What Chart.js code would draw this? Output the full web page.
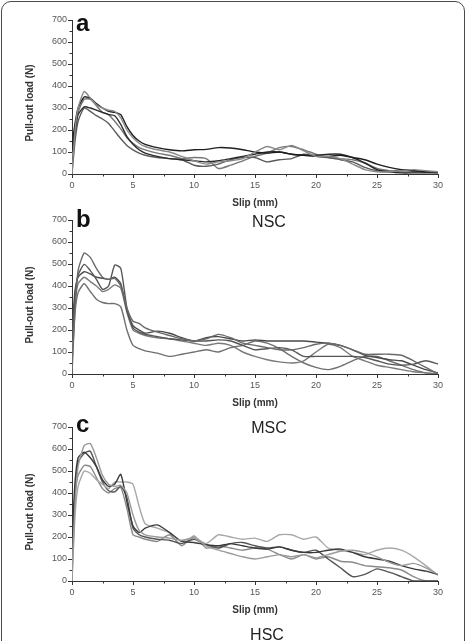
<!DOCTYPE html>
<html>
<head>
<meta charset="utf-8">
<script src="https://cdn.jsdelivr.net/npm/chart.js@4.4.1/dist/chart.umd.min.js"></script>
<style>
    body { margin: 0; width: 467px; height: 641px; overflow: hidden; background: #fff; position: relative; font-family: "Liberation Sans", Arial, sans-serif; }
    .frame { position: absolute; left: 1px; top: 1px; width: 462px; height: 720px; border: 1.5px solid #4a4a4a; border-radius: 10px; }
    .panel { position: absolute; left: 0; width: 467px; height: 212px; }
    .tag { position: absolute; left: 76px; font-weight: bold; font-size: 24px; line-height: 24px; color: #111; }
    .cap { position: absolute; width: 100px; text-align: center; font-size: 16px; line-height: 16px; color: #222; }
    .ytitle { position: absolute; left: -30px; width: 120px; height: 12px; line-height: 12px; text-align: center; font-weight: bold; font-size: 10px; color: #333; transform: rotate(-90deg); }
</style>
</head>
<body>
<div class="frame"></div>

<div class="panel" style="top:0px"><canvas id="chartA" width="467" height="212"></canvas></div>
<div class="panel" style="top:200px"><canvas id="chartB" width="467" height="212"></canvas></div>
<div class="panel" style="top:407px"><canvas id="chartC" width="467" height="212"></canvas></div>

<div class="tag" style="top:11px">a</div>
<div class="tag" style="top:207px">b</div>
<div class="tag" style="top:412px">c</div>

<div class="ytitle" style="top:97px">Pull-out load (N)</div>
<div class="ytitle" style="top:299px">Pull-out load (N)</div>
<div class="ytitle" style="top:506px">Pull-out load (N)</div>

<div class="cap" style="left:219px; top:214px">NSC</div>
<div class="cap" style="left:219px; top:420px">MSC</div>
<div class="cap" style="left:217px; top:627px">HSC</div>

<script>
// slip positions (mm) shared by every curve
const slip = [0, 0.25, 0.5, 1, 1.5, 2, 2.5, 3, 3.5, 4, 4.5, 5, 5.5, 6,
    7, 8, 9, 10, 11, 12, 13, 14, 15, 16, 17, 18, 19, 20, 21, 22, 23, 24, 25, 26, 27, 28, 29, 30];

const xTicks = [0, 5, 10, 15, 20, 25, 30];
const yTicks = [0, 100, 200, 300, 400, 500, 600, 700];

// (a) NSC specimens, load in N
const nsc1 = [0, 200, 300, 375, 345, 315, 300, 290, 285, 255, 200, 165, 140, 125,
    110, 100, 80, 60, 45, 55, 60, 70, 100, 125, 110, 130, 105, 80, 80, 70, 45, 20, 10, 10, 15, 20, 15, 10];
const nsc2 = [130, 230, 300, 350, 345, 320, 300, 285, 280, 270, 215, 175, 150, 135,
    120, 110, 105, 110, 112, 120, 118, 110, 100, 95, 100, 90, 85, 80, 80, 85, 75, 65, 45, 30, 20, 15, 10, 10];
const nsc3 = [100, 200, 270, 305, 300, 290, 280, 270, 265, 225, 170, 135, 110, 95,
    80, 70, 65, 60, 55, 60, 70, 80, 90, 100, 100, 90, 85, 85, 90, 90, 75, 50, 20, 10, 5, 5, 5, 5];
const nsc4 = [0, 150, 240, 300, 285, 265, 250, 230, 195, 160, 130, 110, 95, 85,
    75, 70, 65, 40, 35, 45, 65, 75, 75, 55, 65, 70, 90, 80, 75, 65, 55, 30, 15, 10, 20, 15, 10, 10];
const nsc5 = [80, 180, 280, 340, 340, 310, 280, 270, 240, 205, 165, 140, 120, 110,
    95, 85, 70, 75, 70, 25, 40, 60, 80, 95, 120, 125, 110, 90, 75, 70, 65, 50, 25, 15, 10, 10, 10, 5];

// (b) MSC specimens
const msc1 = [0, 300, 470, 550, 530, 480, 440, 430, 435, 400, 300, 240, 230, 210,
    190, 175, 160, 150, 160, 180, 165, 140, 130, 120, 110, 110, 120, 135, 140, 130, 110, 90, 90, 90, 85, 60, 30, 0];
const msc2 = [150, 350, 450, 498, 470, 430, 385, 400, 495, 480, 300, 210, 190, 180,
    170, 160, 155, 150, 150, 155, 150, 130, 110, 115, 120, 110, 80, 80, 80, 80, 80, 75, 60, 45, 40, 45, 60, 45];
const msc3 = [200, 380, 440, 465, 455, 440, 435, 430, 440, 410, 290, 220, 200, 185,
    195, 185, 165, 150, 165, 170, 160, 150, 155, 150, 150, 150, 150, 145, 140, 130, 110, 85, 75, 65, 60, 40, 20, 5];
const msc4 = [100, 320, 410, 440, 420, 400, 375, 385, 405, 390, 280, 200, 185, 175,
    165, 160, 150, 140, 130, 140, 130, 100, 80, 65, 55, 50, 60, 100, 135, 120, 80, 60, 40, 30, 20, 10, 5, 0];
const msc5 = [50, 280, 370, 410, 375, 340, 325, 320, 320, 305, 200, 130, 115, 105,
    95, 80, 90, 100, 110, 100, 120, 130, 150, 140, 115, 80, 50, 30, 20, 35, 60, 80, 80, 60, 40, 20, 5, 0];

// (c) HSC specimens
const hsc1 = [0, 350, 520, 615, 625, 560, 480, 440, 430, 435, 400, 300, 230, 210,
    200, 195, 185, 195, 160, 140, 125, 110, 100, 110, 120, 110, 120, 105, 120, 135, 140, 130, 110, 85, 70, 80, 60, 30];
const hsc2 = [200, 450, 560, 585, 560, 520, 460, 430, 440, 485, 360, 250, 220, 240,
    255, 220, 180, 175, 165, 160, 170, 160, 150, 145, 155, 140, 130, 130, 140, 145, 130, 110, 100, 90, 70, 55, 45, 30];
const hsc3 = [0, 300, 430, 500, 490, 460, 440, 420, 450, 450, 450, 440, 340, 260,
    240, 220, 180, 200, 170, 210, 200, 190, 195, 180, 210, 210, 190, 200, 150, 140, 130, 120, 140, 150, 140, 110, 70, 25];
const hsc4 = [100, 400, 540, 580, 590, 520, 450, 410, 405, 430, 380, 240, 210, 200,
    190, 185, 170, 190, 165, 150, 170, 175, 160, 150, 155, 140, 130, 140, 100, 60, 20, 30, 55, 40, 20, 0, 0, 0];
const hsc5 = [50, 380, 480, 525, 520, 470, 420, 400, 420, 425, 330, 210, 200, 190,
    180, 210, 160, 205, 150, 160, 150, 140, 150, 145, 120, 100, 120, 100, 110, 90, 85, 70, 65, 60, 50, 20, 0, 0];

const FONT = "'Liberation Sans', Arial, sans-serif";

// short ticks halfway between the labelled ones
const minorTicks = {
    id: "minorTicks",
    afterDraw(chart) {
        const ctx = chart.ctx;
        const xs = chart.scales.x;
        const ys = chart.scales.y;
        ctx.save();
        ctx.strokeStyle = "#333";
        ctx.lineWidth = 1;
        for (let i = 0; i < xTicks.length - 1; i++) {
            const px = Math.round(xs.getPixelForValue((xTicks[i] + xTicks[i + 1]) / 2)) + 0.5;
            ctx.beginPath();
            ctx.moveTo(px, xs.top);
            ctx.lineTo(px, xs.top + 2.5);
            ctx.stroke();
        }
        for (let i = 0; i < yTicks.length - 1; i++) {
            const py = Math.round(ys.getPixelForValue((yTicks[i] + yTicks[i + 1]) / 2)) + 0.5;
            ctx.beginPath();
            ctx.moveTo(ys.right, py);
            ctx.lineTo(ys.right - 2.5, py);
            ctx.stroke();
        }
        ctx.restore();
    }
};

function makePanel(id, series, colors) {
    const canvas = document.getElementById(id);
    if (!canvas) return null;

    const datasets = series.map((loads, i) => ({
        data: slip.map((s, j) => ({ x: s, y: loads[j] })),
        borderColor: colors[i],
        borderWidth: 1.4,
        pointRadius: 0,
        tension: 0.2,
        fill: false
    }));

    const axisCommon = {
        grid: { display: true, drawOnChartArea: false, drawTicks: true, tickLength: 4, color: "#333" },
        border: { display: true, color: "#333", width: 1 }
    };

    return new Chart(canvas.getContext("2d"), {
        type: "line",
        data: { datasets },
        options: {
            responsive: false,
            animation: false,
            layout: { padding: { left: 0, right: 29, top: 20, bottom: 0 } },
            plugins: { legend: { display: false }, tooltip: { enabled: false } },
            scales: {
                x: {
                    ...axisCommon,
                    type: "linear",
                    min: xTicks[0],
                    max: xTicks[xTicks.length - 1],
                    afterBuildTicks: (scale) => { scale.ticks = xTicks.map(v => ({ value: v })); },
                    ticks: { font: { family: FONT, size: 9 }, color: "#555", padding: 2, maxRotation: 0 },
                    title: { display: true, text: "Slip (mm)", font: { family: FONT, size: 10, weight: "bold" }, color: "#333", padding: { top: 2, bottom: 3 } },
                    afterFit: (scale) => { scale.height = 38; }
                },
                y: {
                    ...axisCommon,
                    min: yTicks[0],
                    max: yTicks[yTicks.length - 1],
                    afterBuildTicks: (scale) => { scale.ticks = yTicks.map(v => ({ value: v })); },
                    ticks: { font: { family: FONT, size: 9 }, color: "#555", padding: 1 },
                    afterFit: (scale) => { scale.width = 72; }
                }
            }
        },
        plugins: [minorTicks]
    });
}

makePanel("chartA", [nsc1, nsc2, nsc3, nsc4, nsc5], ["#8a8a8a", "#1e1e1e", "#2a2a2a", "#5a5a5a", "#777777"]);
makePanel("chartB", [msc1, msc2, msc3, msc4, msc5], ["#6a6a6a", "#555555", "#4a4a4a", "#7a7a7a", "#707070"]);
makePanel("chartC", [hsc1, hsc2, hsc3, hsc4, hsc5], ["#9a9a9a", "#3a3a3a", "#a8a8a8", "#555555", "#8a8a8a"]);
</script>
</body>
</html>
